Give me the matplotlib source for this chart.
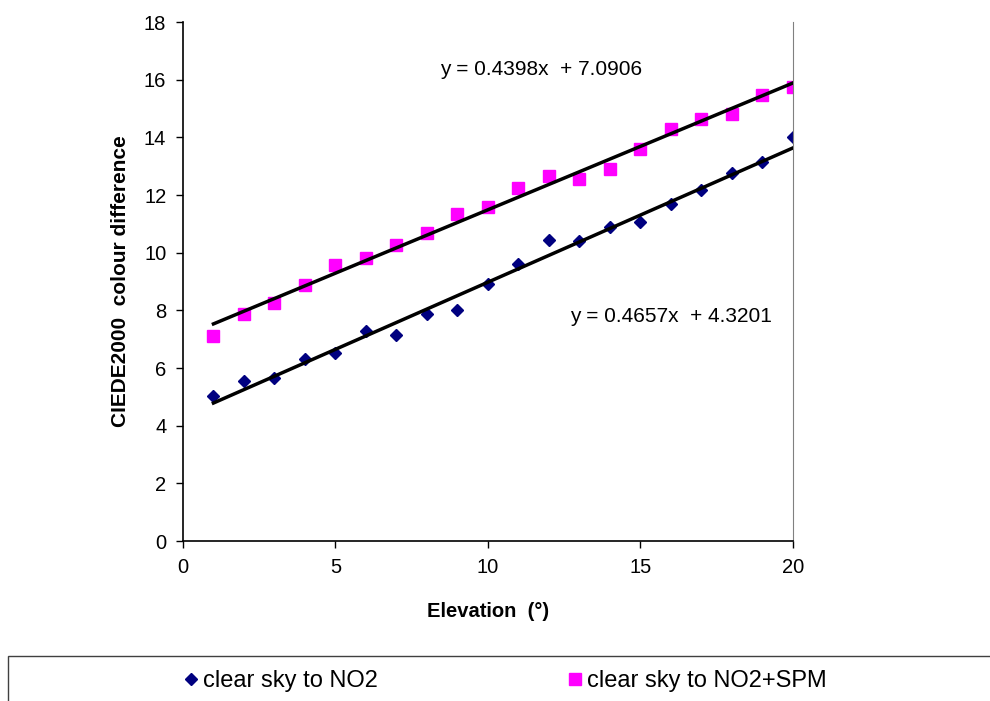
import numpy as np
import matplotlib
matplotlib.use("Agg")
import matplotlib.pyplot as plt
from matplotlib.patches import Rectangle

plt.rcParams['font.family'] = ['Liberation Sans', 'DejaVu Sans']

# ---------------- Data ----------------
elevation = list(range(1, 21))
no2 = [5.03, 5.55, 5.65, 6.31, 6.52, 7.28, 7.15, 7.87, 8.01, 8.91,
       9.61, 10.44, 10.41, 10.89, 11.06, 11.69, 12.17, 12.76, 13.15, 14.01]
no2_spm = [7.10, 7.87, 8.25, 8.88, 9.57, 9.82, 10.27, 10.68, 11.34, 11.58,
           12.24, 12.66, 12.56, 12.90, 13.60, 14.29, 14.64, 14.81, 15.47, 15.75]

# trendline coefficients as printed on the chart
no2_fit = (0.4657, 4.3201)
spm_fit = (0.4398, 7.0906)

# ---------------- Plot ----------------
fig = plt.figure(figsize=(9.9, 7.01), dpi=100)
ax = fig.add_axes([0.1848, 0.2282, 0.6162, 0.7404])

x = np.array(elevation)
ax.plot(x, spm_fit[0] * x + spm_fit[1], color="black", lw=2.5, zorder=3)
ax.plot(x, no2_fit[0] * x + no2_fit[1], color="black", lw=2.5, zorder=3)

h1, = ax.plot(elevation, no2, linestyle="none", marker="D", markersize=6.5,
              color="#000080", zorder=2, label="clear sky to NO2")
h2, = ax.plot(elevation, no2_spm, linestyle="none", marker="s", markersize=8.5,
              color="#FF00FF", zorder=2, label="clear sky to NO2+SPM")

ax.text(8.43, 16.34, "y = 0.4398x  + 7.0906", fontsize=15, va="center", ha="left")
ax.text(12.69, 7.8, "y = 0.4657x  + 4.3201", fontsize=15, va="center", ha="left")

ax.set_xlim(0, 20)
ax.set_ylim(0, 18)
ax.set_xticks([0, 5, 10, 15, 20])
ax.set_yticks(range(0, 19, 2))
ax.tick_params(direction="out", length=5, width=1, labelsize=14.5, pad=7)

ax.spines["top"].set_visible(False)
ax.spines["right"].set_color("#808080")
ax.spines["left"].set_linewidth(1.2)
ax.spines["bottom"].set_linewidth(1.2)

ax.set_xlabel("Elevation  (°)", fontsize=14.5, fontweight="bold", labelpad=18)
ax.set_ylabel("CIEDE2000  colour difference", fontsize=15, fontweight="bold", labelpad=10)

# legend box along the bottom
fig.patches.append(Rectangle((8 / 990, -0.01), 1.0, 45 / 701 + 0.01,
                             transform=fig.transFigure, fill=False,
                             edgecolor="#404040", lw=1))
fig.legend(handles=[h1, h2], loc="center left", bbox_to_anchor=(184 / 990, 20 / 701),
           ncol=2, frameon=False, fontsize=17, handlelength=0.6, handletextpad=0.2,
           columnspacing=8.05, borderaxespad=0, borderpad=0)

fig.savefig("out.png", dpi=100)
